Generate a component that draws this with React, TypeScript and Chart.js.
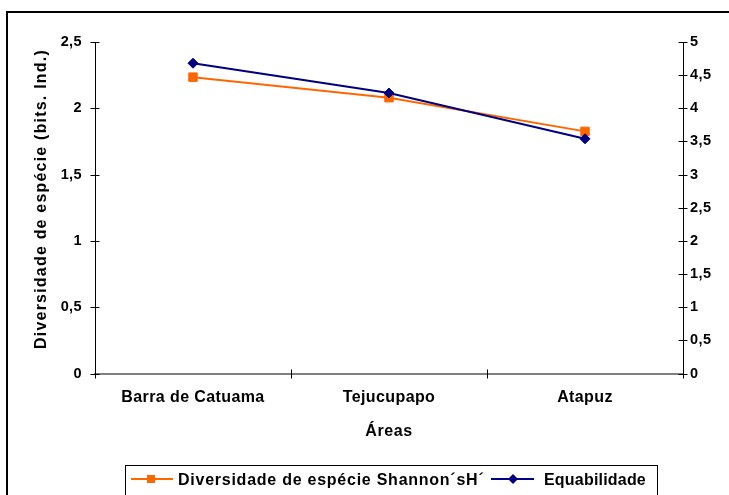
import React, { useEffect, useRef } from "react";
import { Chart, registerables } from "chart.js";

Chart.register(...registerables);

const categories = ["Barra de Catuama", "Tejucupapo", "Atapuz"];
const shannonValues = [2.235, 2.08, 1.826];
const equabilidadeValues = [4.68, 4.23, 3.54];
const leftTickValues = [0, 0.5, 1, 1.5, 2, 2.5];
const rightTickValues = [0, 0.5, 1, 1.5, 2, 2.5, 3, 3.5, 4, 4.5, 5];
const seriesLabels = ["Diversidade de espécie Shannon´sH´", "Equabilidade"];
const yTitle = "Diversidade de espécie (bits. Ind.)";
const xTitle = "Áreas";

const FAMILY = "'Liberation Sans', Arial, sans-serif";
const ORANGE = "#FF6600";
const NAVY = "#000080";

const fmt = (v: number) => String(v).replace(".", ",");

const decorPlugin = {
  id: "decor",
  beforeDraw(chart: any) {
    const ctx = chart.ctx;
    ctx.save();
    ctx.fillStyle = "#fff";
    ctx.fillRect(0, 0, chart.width, chart.height);
    ctx.restore();
    (ctx as any).letterSpacing = "0.4px";
  },
  afterDraw(chart: any) {
    const ctx = chart.ctx;
    const { x, y, y1 } = chart.scales;
    ctx.save();
    // outer frame
    ctx.strokeStyle = "#000";
    ctx.lineWidth = 2;
    ctx.strokeRect(7, 12, 900, 700);

    // cross ticks on y axes
    ctx.lineWidth = 1;
    ctx.strokeStyle = "#000";
    const lx = Math.round(y.right) + 0.5;
    leftTickValues.forEach((v) => {
      const py = Math.round(y.getPixelForValue(v)) + 0.5;
      ctx.beginPath();
      ctx.moveTo(lx - 5, py);
      ctx.lineTo(lx + 4, py);
      ctx.stroke();
    });
    const rx = Math.round(y1.left) + 0.5;
    rightTickValues.forEach((v) => {
      const py = Math.round(y1.getPixelForValue(v)) + 0.5;
      ctx.beginPath();
      ctx.moveTo(rx - 5, py);
      ctx.lineTo(rx + 4, py);
      ctx.stroke();
    });
    // category boundary ticks
    const ay = y.bottom;
    for (let i = 0; i <= categories.length; i++) {
      let px: number;
      if (i === 0) px = x.left;
      else if (i === categories.length) px = x.right;
      else px = (x.getPixelForValue(i - 1) + x.getPixelForValue(i)) / 2;
      px = Math.round(px) + 0.5;
      ctx.beginPath();
      ctx.moveTo(px, ay - 4);
      ctx.lineTo(px, ay + 5);
      ctx.stroke();
    }

    // axis titles
    ctx.fillStyle = "#000";
    ctx.font = `bold 16px ${FAMILY}`;
    ctx.textAlign = "center";
    ctx.textBaseline = "alphabetic";
    (ctx as any).letterSpacing = "0.6px";
    ctx.fillText(xTitle, (x.left + x.right) / 2, 436);

    ctx.save();
    ctx.translate(46, 199);
    ctx.rotate(-Math.PI / 2);
    (ctx as any).letterSpacing = "1.2px";
    ctx.fillText(yTitle, 0, 0);
    ctx.restore();

    // legend
    ctx.lineWidth = 1;
    ctx.strokeStyle = "#000";
    ctx.strokeRect(125.5, 465.5, 532, 60);
    const ly = 479;
    ctx.strokeStyle = ORANGE;
    ctx.lineWidth = 2;
    ctx.beginPath();
    ctx.moveTo(131, ly);
    ctx.lineTo(173, ly);
    ctx.stroke();
    ctx.fillStyle = ORANGE;
    ctx.fillRect(147, ly - 4, 8, 8);
    ctx.strokeStyle = NAVY;
    ctx.beginPath();
    ctx.moveTo(491, ly);
    ctx.lineTo(534, ly);
    ctx.stroke();
    ctx.fillStyle = NAVY;
    ctx.beginPath();
    ctx.moveTo(513 - 5, ly);
    ctx.lineTo(513, ly - 5);
    ctx.lineTo(513 + 5, ly);
    ctx.lineTo(513, ly + 5);
    ctx.closePath();
    ctx.fill();

    ctx.fillStyle = "#000";
    ctx.textAlign = "left";
    ctx.font = `bold 16px ${FAMILY}`;
    (ctx as any).letterSpacing = "0.75px";
    ctx.fillText(seriesLabels[0], 178, 485);
    (ctx as any).letterSpacing = "0.2px";
    ctx.fillText(seriesLabels[1], 544, 485);
    ctx.restore();
  },
};

export default function App() {
  const ref = useRef<HTMLCanvasElement | null>(null);

  useEffect(() => {
    if (!ref.current) return;
    const tickFont = { family: FAMILY, size: 14.5, weight: "bold" as const };
    const chart = new Chart(ref.current, {
      type: "line",
      data: {
        labels: categories,
        datasets: [
          {
            label: seriesLabels[0],
            data: shannonValues,
            yAxisID: "y",
            borderColor: ORANGE,
            backgroundColor: ORANGE,
            borderWidth: 2,
            pointStyle: "rect",
            pointRadius: 6,
            pointBorderWidth: 1,
            pointBorderColor: ORANGE,
            pointBackgroundColor: ORANGE,
            tension: 0,
            order: 1,
          },
          {
            label: seriesLabels[1],
            data: equabilidadeValues,
            yAxisID: "y1",
            borderColor: NAVY,
            backgroundColor: NAVY,
            borderWidth: 2,
            pointStyle: "rectRot",
            pointRadius: 5,
            pointBorderWidth: 1,
            pointBorderColor: NAVY,
            pointBackgroundColor: NAVY,
            tension: 0,
            order: 0,
          },
        ],
      },
      options: {
        responsive: false,
        animation: false,
        layout: { padding: { top: 42, left: 0, right: 0, bottom: 0 } },
        plugins: {
          legend: { display: false },
          tooltip: { enabled: false },
          title: { display: false },
        },
        scales: {
          x: {
            type: "category",
            offset: true,
            grid: { display: false, drawTicks: false, tickLength: 0 },
            border: { display: true, color: "#808080", width: 2 },
            ticks: {
              font: { family: FAMILY, size: 16, weight: "bold" },
              color: "#000",
              padding: 14,
              maxRotation: 0,
              autoSkip: false,
            },
            afterFit: (s: any) => {
              s.height = 121.5;
            },
          },
          y: {
            position: "left",
            min: 0,
            max: 2.5,
            grid: { display: false, drawTicks: false, tickLength: 0 },
            border: { display: true, color: "#000", width: 1 },
            ticks: {
              stepSize: 0.5,
              font: tickFont,
              color: "#000",
              padding: 13,
              callback: (v: any) => fmt(Number(v)),
            },
            afterFit: (s: any) => {
              s.width = 95;
            },
          },
          y1: {
            position: "right",
            min: 0,
            max: 5,
            grid: { display: false, drawTicks: false, tickLength: 0 },
            border: { display: true, color: "#000", width: 1 },
            ticks: {
              stepSize: 0.5,
              font: tickFont,
              color: "#000",
              padding: 7,
              callback: (v: any) => fmt(Number(v)),
            },
            afterFit: (s: any) => {
              s.width = 46;
            },
          },
        },
      },
      plugins: [decorPlugin],
    });
    return () => chart.destroy();
  }, []);

  return (
    <div style={{ position: "absolute", left: 0, top: 0, width: 729, height: 495 }}>
      <canvas ref={ref} width={729} height={495} style={{ display: "block" }} />
    </div>
  );
}
